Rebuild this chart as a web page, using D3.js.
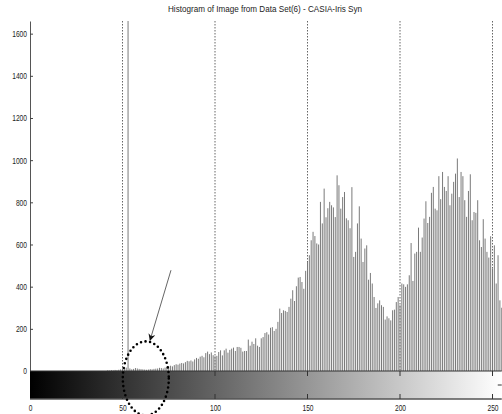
<!DOCTYPE html>
<html>
<head>
<meta charset="utf-8">
<script src="https://cdnjs.cloudflare.com/ajax/libs/d3/7.8.5/d3.min.js"></script>
<style>
  body { margin: 0; background: #fff; }
  text { font-family: "Liberation Sans Narrow", "Arial Narrow", "Liberation Sans", Arial, sans-serif; fill: #222; }
</style>
</head>
<body>
<div id="chart"></div>
<script>
// Step 1: data
//= ================================
var chartTitle = "Histogram of Image from Data Set(6) - CASIA-Iris Syn";

// pixel counts for grey levels 0..255
var counts = [
  0, 0, 0, 0, 0, 0, 0, 0, 0, 0, 0, 0, 0, 0, 0, 0, 0, 0, 0, 0,
  0, 0, 0, 0, 0, 0, 0, 0, 0, 0, 0, 0, 0, 0, 0, 0, 0, 0, 0, 0,
  0, 0, 3, 2, 4, 3, 5, 4, 6, 8, 10, 12, 16, 2600, 12, 8, 10, 14, 12, 10,
  9, 8, 7, 6, 7, 9, 8, 10, 11, 12, 15, 14, 12, 16, 18, 22, 25, 22, 28, 32,
  30, 35, 38, 36, 42, 48, 46, 50, 45, 55, 62, 58, 68, 72, 65, 85, 92, 80, 88, 75,
  70, 72, 90, 98, 74, 98, 106, 87, 100, 106, 111, 95, 114, 114, 110, 92, 95, 95, 149, 120,
  139, 128, 155, 120, 114, 155, 161, 180, 184, 173, 205, 208, 190, 200, 233, 296, 275, 288, 285, 280,
  304, 343, 383, 332, 402, 443, 446, 422, 390, 475, 517, 549, 620, 660, 640, 605, 600, 802, 700, 865,
  729, 772, 802, 786, 776, 730, 928, 881, 770, 825, 849, 724, 715, 677, 872, 541, 565, 700, 781, 628,
  517, 581, 596, 433, 465, 415, 351, 299, 321, 335, 312, 304, 244, 259, 250, 240, 288, 291, 327, 351,
  312, 415, 411, 399, 411, 454, 607, 427, 557, 565, 680, 565, 633, 723, 805, 702, 731, 845, 873, 770,
  762, 924, 815, 944, 873, 854, 924, 786, 841, 897, 936, 1008, 825, 944, 924, 810, 731, 854, 933, 715,
  754, 750, 810, 620, 588, 720, 628, 565, 538, 639, 486, 596, 415, 549, 335, 300
];

var xTicks = [0, 50, 100, 150, 200, 250];
var yTicks = [0, 200, 400, 600, 800, 1000, 1200, 1400, 1600];

// annotation: arrow (from, to) and dotted ring, in data units
var arrowFrom = [76.2, 478];
var arrowTo = [64.9, 146];
var ringCenter = [62.6, -35];

// Step 2: chart set up
//= ================================
var svgWidth = 502;
var svgHeight = 414;

var margin = { top: 21, right: 0, bottom: 43, left: 30 };
var height = svgHeight - margin.top - margin.bottom;   // 350
var width = 255 * 1.85;
var barHeight = 28;   // colour strip under the axis
var charW = 3.7;      // squeeze labels to look like the narrow font

var svg = d3.select("#chart")
  .append("svg")
  .attr("width", svgWidth)
  .attr("height", svgHeight);

var chartGroup = svg.append("g")
  .attr("transform", `translate(${margin.left}, ${margin.top})`);

var xScale = d3.scaleLinear().domain([0, 255]).range([0, width]);
var yScale = d3.scaleLinear().domain([0, 1660]).range([height, 0]);

// title
svg.append("text")
  .attr("x", 265)
  .attr("y", 12)
  .attr("text-anchor", "middle")
  .attr("font-size", "9.5px")
  .attr("textLength", 194)
  .attr("lengthAdjust", "spacingAndGlyphs")
  .text(chartTitle);

// dotted grid lines
chartGroup.selectAll(".grid")
  .data(xTicks.filter(d => d > 0))
  .enter()
  .append("line")
  .attr("class", "grid")
  .attr("x1", d => xScale(d))
  .attr("x2", d => xScale(d))
  .attr("y1", 0)
  .attr("y2", height)
  .attr("stroke", "#666")
  .attr("stroke-width", 1)
  .attr("stroke-dasharray", "1.5,1.5");

// histogram stems
chartGroup.append("clipPath").attr("id", "plotclip")
  .append("rect").attr("x", -2).attr("y", 0).attr("width", width + 10).attr("height", height);

chartGroup.append("g")
  .attr("clip-path", "url(#plotclip)")
  .selectAll("line")
  .data(counts.map((c, i) => ({ bin: i, count: c })).filter(d => d.count > 0))
  .enter()
  .append("line")
  .attr("x1", d => xScale(d.bin))
  .attr("x2", d => xScale(d.bin))
  .attr("y1", yScale(0))
  .attr("y2", d => yScale(d.count))
  .attr("stroke", "#7a7a7a")
  .attr("stroke-width", 1);

// y axis
var leftAxis = d3.axisLeft(yScale)
  .tickValues(yTicks)
  .tickFormat(d3.format("d"))
  .tickSizeInner(-3)
  .tickSizeOuter(0)
  .tickPadding(3);

var yAxis = chartGroup.append("g").call(leftAxis);
yAxis.select(".domain").attr("stroke", "#555");
yAxis.selectAll(".tick line").attr("stroke", "#444");
yAxis.selectAll("text")
  .attr("font-size", "9px")
  .attr("fill", "#222")
  .attr("textLength", d => String(d).length * charW)
  .attr("lengthAdjust", "spacingAndGlyphs");

// grey-level colour strip
var grad = svg.append("defs").append("linearGradient")
  .attr("id", "greyRamp")
  .attr("x1", "0%").attr("x2", "100%").attr("y1", "0%").attr("y2", "0%");
grad.append("stop").attr("offset", "0%").attr("stop-color", "#000");
grad.append("stop").attr("offset", "100%").attr("stop-color", "#fff");

var strip = chartGroup.append("g")
  .attr("transform", `translate(0, ${height})`);

strip.append("rect")
  .attr("x", xScale(0))
  .attr("y", 0)
  .attr("width", xScale(255) - xScale(0))
  .attr("height", barHeight)
  .attr("fill", "url(#greyRamp)");

strip.append("line")
  .attr("x1", xScale(0)).attr("x2", xScale(255))
  .attr("y1", 0).attr("y2", 0)
  .attr("stroke", "#333").attr("stroke-width", 1.2);

strip.append("line")
  .attr("x1", xScale(0)).attr("x2", xScale(255))
  .attr("y1", barHeight).attr("y2", barHeight)
  .attr("stroke", "#555").attr("stroke-width", 1.5);

// small ticks inside the strip, top and bottom
strip.selectAll(".ttop")
  .data(xTicks.filter(d => d > 0))
  .enter()
  .append("line")
  .attr("x1", d => xScale(d)).attr("x2", d => xScale(d))
  .attr("y1", 0).attr("y2", 5)
  .attr("stroke", "#333");

strip.selectAll(".tbot")
  .data(xTicks.filter(d => d > 0))
  .enter()
  .append("line")
  .attr("x1", d => xScale(d)).attr("x2", d => xScale(d))
  .attr("y1", barHeight - 5).attr("y2", barHeight)
  .attr("stroke", "#333");

strip.append("line")
  .attr("x1", width - 4).attr("x2", width)
  .attr("y1", barHeight / 2).attr("y2", barHeight / 2)
  .attr("stroke", "#333");

// x tick labels under the strip
var bottomAxis = d3.axisBottom(xScale)
  .tickValues(xTicks)
  .tickSize(0)
  .tickPadding(6);

var xAxis = strip.append("g")
  .attr("transform", `translate(0, ${barHeight})`)
  .call(bottomAxis);
xAxis.select(".domain").remove();
xAxis.selectAll("text")
  .attr("font-size", "9px")
  .attr("fill", "#222")
  .attr("textLength", d => String(d).length * charW)
  .attr("lengthAdjust", "spacingAndGlyphs");

// annotation: arrow and dotted ring
var defs = svg.select("defs");
defs.append("marker")
  .attr("id", "arrowhead")
  .attr("viewBox", "0 0 10 10")
  .attr("refX", 9).attr("refY", 5)
  .attr("markerWidth", 7).attr("markerHeight", 7)
  .attr("markerUnits", "userSpaceOnUse")
  .attr("orient", "auto")
  .append("path")
  .attr("d", "M0,0 L10,5 L0,10 L3,5 Z")
  .attr("fill", "#111");

chartGroup.append("line")
  .attr("x1", xScale(arrowFrom[0])).attr("y1", yScale(arrowFrom[1]))
  .attr("x2", xScale(arrowTo[0])).attr("y2", yScale(arrowTo[1]))
  .attr("stroke", "#666")
  .attr("stroke-width", 1)
  .attr("marker-end", "url(#arrowhead)");

chartGroup.append("ellipse")
  .attr("cx", xScale(ringCenter[0]))
  .attr("cy", yScale(ringCenter[1]))
  .attr("rx", 23)
  .attr("ry", 37)
  .attr("fill", "none")
  .attr("stroke", "#000")
  .attr("stroke-width", 2.6)
  .attr("stroke-linecap", "round")
  .attr("stroke-dasharray", "0,4.6");
</script>
</body>
</html>
